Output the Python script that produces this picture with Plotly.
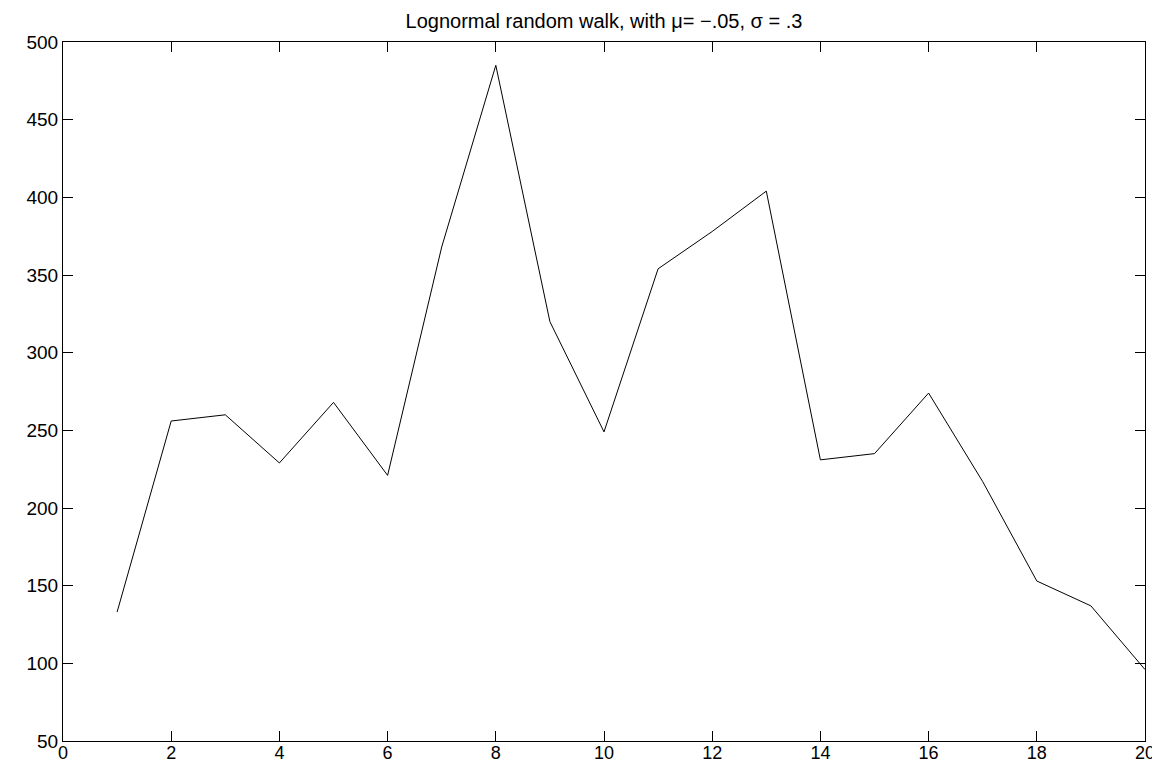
import plotly.graph_objects as go

steps = list(range(1, 21))
values = [133, 256, 260, 229, 268, 221, 368, 485, 320, 249,
          354, 378, 404, 231, 235, 274, 217, 153, 137, 96]
x_ticks = list(range(0, 21, 2))
y_ticks = list(range(50, 501, 50))

# The page body has an 8px default margin, so the figure is shifted by 8px.
W, H = 1152, 757

fig = go.Figure()
fig.add_trace(go.Scatter(x=steps, y=values, mode="lines",
                         line=dict(color="black", width=1), showlegend=False))

axis_common = dict(showgrid=False, zeroline=False, showline=True, linecolor="black",
                   linewidth=1, mirror="allticks", ticks="inside", ticklen=10,
                   tickcolor="black", tickwidth=1, automargin=False)

fig.update_xaxes(range=[0, 20], tickvals=x_ticks, ticklabelstandoff=-5,
                 tickfont=dict(family="Liberation Sans, Arial", size=18, color="black"),
                 **axis_common)
fig.update_yaxes(range=[50, 500], tickvals=y_ticks,
                 tickfont=dict(family="Liberation Sans, Arial", size=19, color="black"),
                 **axis_common)

fig.update_layout(
    width=W, height=H,
    margin=dict(l=55, r=15, t=34, b=24),
    paper_bgcolor="white", plot_bgcolor="white",
    title=dict(text="Lognormal random walk, with \u03bc= \u2212.05, \u03c3 = .3",
               x=596 / W, xanchor="center", y=1 - 12.5 / H, yanchor="middle",
               font=dict(family="Liberation Sans, Arial", size=20, color="black")),
)

fig.write_html("out.html")
